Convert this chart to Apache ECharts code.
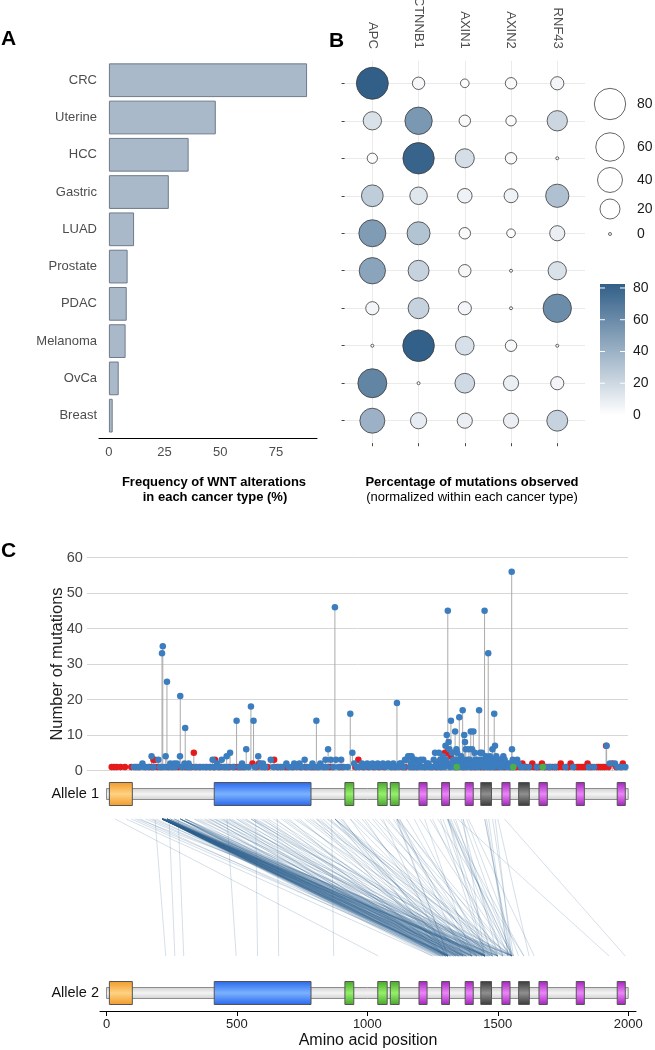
<!DOCTYPE html>
<html><head><meta charset="utf-8">
<script src="https://cdn.jsdelivr.net/npm/echarts@6/dist/echarts.min.js"></script>
<style>html,body{margin:0;padding:0;background:#fff}#c{width:655px;height:1050px}</style>
</head><body><div id="c"></div>
<script>
// ---------------- DATA ----------------
const cancerTypes = ['CRC','Uterine','HCC','Gastric','LUAD','Prostate','PDAC','Melanoma','OvCa','Breast'];
const wntFrequency = [89, 48, 35.8, 26.9, 11.3, 8.4, 8.0, 7.5, 4.4, 1.7];
const freqTicks = [0, 25, 50, 75];

const genes = ['APC','CTNNB1','AXIN1','AXIN2','RNF43'];
const pctAPC    = [85, 15, 2, 26, 51, 47, 5, 0, 63, 40];
const pctCTNNB1 = [4, 53, 80, 13, 31, 23, 23, 82, 0, 10];
const pctAXIN1  = [1, 3, 17, 7, 3, 4, 5, 16, 19, 8];
const pctAXIN2  = [3, 2, 3, 6, 1, 0, 0, 3, 8, 8];
const pctRNF43  = [5, 21, 0, 32, 8, 15, 59, 0, 5, 23];
const sizeLegendTicks = [80, 60, 40, 20, 0];
const colorLegendTicks = [80, 60, 40, 20, 0];

const aaTicks = [0, 500, 1000, 1500, 2000];
const proteinLength = 2000;
const alleles = ['Allele 1', 'Allele 2'];

// [amino acid position, number of mutations]
const truncating = [
 [105,1],[118,1],[128,1],[138,2],[145,1],[160,1],[173,4],[180,1],[199,3],[205,1],[213,33],[216,35],[221,1],[227,4],[232,25],
 [240,1],[245,2],[250,1],[260,2],[265,1],[270,2],[282,4],[283,21],[290,1],[299,2],[302,12],[310,1],[315,2],[320,1],[340,1],
 [355,1],[370,1],[385,1],[400,1],[407,3],[415,1],[425,2],[430,1],[442,3],[450,1],[461,4],[465,1],[474,5],[485,1],[499,14],
 [510,1],[520,2],[530,1],[536,6],[545,1],[554,18],[564,14],[570,1],[582,4],[589,2],[595,1],[600,2],[610,1],[630,3],[640,1],
 [660,1],[675,1],[690,2],[700,1],[710,1],[720,2],[730,1],[740,2],[750,1],[760,3],[770,1],[780,1],[790,2],[800,1],[805,14],
 [815,1],[820,2],[830,1],[840,3],[845,1],[850,6],[860,3],[870,1],[876,46],[880,3],[890,1],[900,3],[910,1],[925,1],[935,16],
 [943,5],[950,2],[960,1],[970,1],[980,2],[990,1],[1000,2],[1010,1],[1020,2],[1030,1],[1040,2],[1050,1],[1060,2],[1070,1],
 [1080,2],[1090,1],[1100,2],[1105,1],[1114,19],[1120,1],[1130,2],[1140,1],[1150,3],[1157,4],[1162,4],[1165,1],[1170,4],
 [1176,3],[1180,1],[1185,3],[1195,1],[1200,2],[1210,1],[1215,3],[1225,1],[1230,2],[1240,1],[1250,1],[1260,5],[1270,1],
 [1275,5],[1285,1],[1290,4],[1295,1],[1300,7],[1305,10],[1309,45],[1312,8],[1315,6],[1318,1],[1321,14],[1325,5],[1330,3],
 [1335,1],[1337,11],[1342,6],[1345,5],[1350,1],[1353,15],[1360,4],[1365,1],[1366,17],[1372,10],[1375,8],[1378,6],[1380,1],
 [1385,3],[1390,6],[1395,1],[1397,11],[1402,6],[1407,11],[1410,1],[1412,5],[1420,3],[1425,1],[1429,17],[1433,5],[1440,5],
 [1445,1],[1450,45],[1455,4],[1460,1],[1464,33],[1470,4],[1475,1],[1480,6],[1485,1],[1487,16],[1490,7],[1495,4],[1500,3],
 [1505,1],[1510,3],[1515,1],[1522,4],[1530,2],[1535,1],[1540,2],[1545,1],[1554,56],[1555,6],[1560,1],[1565,2],[1575,3],
 [1580,2],[1590,1],[1600,1],[1620,1],[1650,1],[1680,1],[1700,1],[1720,1],[1760,1],[1790,1],[1850,1],[1870,1],[1918,7],
 [1930,2],[1950,2],[1960,1],[1975,1],[1990,1],
 [1125,2],[1145,3],[1168,2],[1190,2],[1205,3],[1235,2],[1255,3],[1265,2],[1280,3],[1288,2],[1302,3],[1310,2],[1328,2],
 [1340,3],[1348,2],[1357,3],[1363,2],[1370,3],[1383,2],[1393,3],[1405,2],[1415,3],[1423,2],[1437,3],[1442,2],[1452,2],
 [1458,3],[1467,2],[1473,3],[1483,2],[1492,3],[1498,2],[1508,2],[1518,2],[1527,3],[1548,2],[1558,3],[1570,2]
];
const missense = [
 [20,1],[30,1],[39,1],[54,1],[71,1],[95,1],[112,1],[125,1],[150,1],[165,1],[175,1],[180,3],[186,3],[195,1],[210,1],
 [236,1],[255,1],[275,1],[292,1],[305,1],[318,1],[326,1],[335,5],[345,1],[360,1],[380,1],[395,1],[412,1],[416,3],[435,1],
 [455,1],[470,1],[490,1],[505,1],[515,1],[525,1],[560,2],[575,1],[585,2],[605,1],[618,1],[643,3],[655,1],[668,1],[685,1],
 [695,1],[715,1],[745,1],[765,1],[785,1],[795,1],[810,1],[835,1],[855,1],[866,1],[895,1],[905,1],[955,1],[966,3],[985,1],
 [1005,1],[1025,1],[1045,1],[1065,1],[1095,1],[1110,1],[1135,1],[1145,1],[1175,1],[1190,1],[1220,1],[1245,1],[1265,1],
 [1280,1],[1298,5],[1303,5],[1320,4],[1340,1],[1370,1],[1400,1],[1415,1],[1435,1],[1448,1],[1470,1],[1490,1],[1500,1],
 [1525,1],[1550,1],[1570,1],[1585,1],[1595,2],[1605,1],[1612,1],[1625,1],[1633,2],[1640,1],[1648,1],[1655,1],[1662,1],
 [1670,2],[1680,1],[1688,1],[1695,1],[1702,1],[1710,1],[1718,1],[1726,1],[1734,1],[1742,2],[1750,1],[1765,1],[1772,1],
 [1780,2],[1795,1],[1805,1],[1812,1],[1820,1],[1828,1],[1836,1],[1845,2],[1855,1],[1862,1],[1880,1],[1888,1],[1895,1],
 [1903,1],[1910,1],[1916,7],[1925,1],[1940,2],[1955,1],[1970,1],[1980,2]
];
const otherMut = [[1343,1],[1560,1],[1673,1]];

const domainStart = [11, 413, 914, 1040, 1088, 1198, 1285, 1375, 1435, 1516, 1580, 1658, 1801, 1958];
const domainEnd   = [99, 784, 948, 1076, 1122, 1229, 1315, 1406, 1476, 1547, 1621, 1690, 1832, 1989];
const domainType  = ['orange','blue','green','green','green','purple','purple','purple','gray','purple','gray','purple','purple','purple'];

// [position on allele 1, position on allele 2]
const alleleLinks = [
 [213,1250],[213,1265],[213,1280],[213,1290],[213,1300],[213,1309],[213,1309],[213,1315],[213,1325],[213,1338],
 [213,1350],[213,1367],[213,1380],[213,1395],[213,1410],[213,1430],[213,1450],[213,1465],[213,1490],[213,1520],
 [213,1295],[213,1305],[213,1320],[213,1345],[213,1360],[213,1372],[213,1390],[213,1405],[213,1440],[213,1455],
 [216,1260],[216,1275],[216,1295],[216,1309],[216,1309],[216,1322],[216,1340],[216,1360],[216,1375],[216,1400],
 [216,1420],[216,1440],[216,1450],[216,1475],[216,1500],[216,1554],
 [216,1285],[216,1300],[216,1315],[216,1335],[216,1355],[216,1380],[216,1410],[216,1430],[216,1460],
 [220,1285],[220,1330],[220,1370],[220,1415],[220,1460],[220,1540],
 [225,1310],[225,1350],[225,1400],[225,1450],
 [232,1270],[232,1300],[232,1309],[232,1338],[232,1355],[232,1367],[232,1390],[232,1420],[232,1450],[232,1465],
 [232,1500],[232,1554],[232,1290],[232,1320],[232,1345],[232,1375],[232,1405],[232,1440],
 [245,1310],[245,1380],[245,1440],[245,1530],[260,1300],[260,1350],[260,1450],[260,1500],
 [283,1290],[283,1309],[283,1345],[283,1367],[283,1400],[283,1450],[283,1480],[283,1554],[283,1320],[283,1380],[283,1430],
 [302,1309],[302,1367],[302,1430],[302,1450],[302,1560],
 [75,1250],[95,1300],[110,1330],[130,1280],[150,1400],[165,1360],[175,1450],[190,1309],[120,1500],[33,1042],
 [186,227],[240,262],[275,296],[462,497],[572,579],[655,660],[863,871],[1457,1540],[1490,1553],
 [335,1309],[340,1450],[350,1380],[360,1554],[375,1280],[390,1420],[400,1340],[410,1480],[420,1309],[430,1500],
 [440,1367],[450,1450],[460,1520],[470,1300],[480,1400],[499,1309],[499,1450],[520,1554],
 [380,1300],[395,1350],[415,1400],[445,1330],[470,1450],[510,1380],[530,1420],
 [536,1309],[554,1309],[554,1450],[554,1480],[564,1367],[564,1554],[575,1420],[590,1500],[600,1340],[620,1450],
 [610,1360],[640,1470],[680,1390],[730,1440],[770,1480],[820,1350],[845,1520],
 [650,1309],[670,1400],[690,1450],[700,1300],[720,1500],[740,1367],[760,1450],[780,1554],[790,1330],[805,1309],
 [805,1450],[810,1480],[830,1420],[850,1554],[860,1380],[876,1309],[876,1450],[876,1554],[876,1367],[876,1465],
 [876,1500],[890,1420],[900,1338],[905,1290],[935,1450],
 [935,1309],[950,1500],[980,1400],[1000,1500],[1020,1450],[1050,1480],[1070,1554],[1100,1420],[1110,1309],[1114,1450],
 [1114,1554],[1114,1309],[1114,1400],[1120,1520],[1125,1367],[1060,1300],[960,1470],[990,1350],[1030,1540],[1080,1500],
 [1180,1450],[1200,1550],[1220,1400],[1250,1500],[1270,1600],[1290,1480],[1305,1554],[1309,1450],[1309,1554],[1309,1600],
 [1309,1480],[1315,1520],[1330,1560],[1338,1520],[1346,1927],[1360,1500],[1367,1554],[1367,1450],[1380,1580],[1388,1640],
 [1150,1470],[1240,1560],[1280,1450],[1320,1540],
 [1450,1554],[1465,1540],[1480,1560],[1450,1550],[1526,1989],[1500,1620]
];

// ---------------- STYLE / LAYOUT ----------------
const FONT = 'Liberation Sans, Arial, Helvetica, sans-serif';
const pctSeries = [pctAPC, pctCTNNB1, pctAXIN1, pctAXIN2, pctRNF43];
const bubbleData = [];
pctSeries.forEach((arr, gi) => arr.forEach((v, ci) => bubbleData.push([gi, ci, v])));
const bubbleDiam = v => 3 + 5.65 * Math.pow(Math.max(v, 0), 0.368);
const colorMax = 82.5;
const colLow = '#ffffff', colHigh = '#325f88';

const rowCenter = [14, 213];
const linkTop = 39, linkBottom = 176;

const domainColors = {
  orange: ['#f19a2a', '#ffd283'],
  blue:   ['#2866ec', '#7ab2ff'],
  green:  ['#48a52b', '#95f06a'],
  purple: ['#a222bb', '#eb86f8'],
  gray:   ['#393939', '#8f8f8f']
};

const domainData = [];
alleles.forEach((a, r) => domainStart.forEach((s, i) => domainData.push([s, domainEnd[i], i, r])));
const alleleBarData = alleles.map((a, r) => [0, proteinLength, r]);
const linkData = alleleLinks.map(p => ({coords: [[p[0], linkTop], [p[1], linkBottom]]}));
const allMuts = truncating.concat(missense, otherMut);

const chart = echarts.init(document.getElementById('c'), null, {renderer: 'canvas'});

const graphics = [];
const txt = (text, x, y, font, fill, align, valign) => graphics.push({
  type: 'text', x, y, silent: true,
  style: {text, font, fill: fill || '#000', textAlign: align || 'left', textVerticalAlign: valign || 'middle'}
});
txt('A', 1, 39, 'bold 21px ' + FONT);
txt('B', 329, 41, 'bold 21px ' + FONT);
txt('C', 1, 551, 'bold 21px ' + FONT);
txt('Frequency of WNT alterations', 214, 482, 'bold 13px ' + FONT, '#000', 'center');
txt('in each cancer type (%)', 215, 497, 'bold 13px ' + FONT, '#000', 'center');
txt('Percentage of mutations observed', 472, 482, 'bold 13px ' + FONT, '#000', 'center');
txt('(normalized within each cancer type)', 472, 497, '13px ' + FONT, '#000', 'center');

const sizeKeyY = [104, 147, 180, 209, 234];
sizeLegendTicks.forEach((v, i) => {
  const d = bubbleDiam(v);
  graphics.push({type: 'circle', silent: true, shape: {cx: 610, cy: sizeKeyY[i], r: d / 2},
    style: {fill: '#fff', stroke: '#666', lineWidth: 1}});
  txt(String(v), 637, sizeKeyY[i], '14px ' + FONT, '#1a1a1a');
});
const cbTop = 284, cbBottom = 415, cbX = 600, cbW = 25;
graphics.push({type: 'rect', silent: true, shape: {x: cbX, y: cbTop, width: cbW, height: cbBottom - cbTop},
  style: {fill: new echarts.graphic.LinearGradient(0, 0, 0, 1, [{offset: 0, color: colHigh}, {offset: 1, color: colLow}])}});
colorLegendTicks.forEach(v => {
  const y = cbBottom - v * (cbBottom - cbTop) / colorMax;
  graphics.push({type: 'line', silent: true, shape: {x1: cbX, y1: y, x2: cbX + 5, y2: y}, style: {stroke: '#fff', lineWidth: 1}});
  graphics.push({type: 'line', silent: true, shape: {x1: cbX + cbW - 5, y1: y, x2: cbX + cbW, y2: y}, style: {stroke: '#fff', lineWidth: 1}});
  txt(String(v), 633, y, '14px ' + FONT, '#1a1a1a');
});
alleles.forEach((a, r) => txt(a, 99, 780 + rowCenter[r], '14.5px ' + FONT, '#111', 'right'));

const option = {
  animation: false,
  textStyle: {fontFamily: FONT},
  graphic: graphics,
  visualMap: [{
    type: 'continuous', show: false, seriesIndex: 1, dimension: 2,
    min: 0, max: colorMax, inRange: {color: [colLow, colHigh]}
  }],
  grid: [
    {left: 99, top: 61.6, width: 218, height: 372.7, outerBoundsMode: 'none'},
    {left: 344.6, top: 60.8, width: 240.4, height: 382.4, outerBoundsMode: 'none'},
    {left: 86.9, top: 557.5, width: 541.1, height: 213, outerBoundsMode: 'none'},
    {left: 100, top: 780, width: 536, height: 231, outerBoundsMode: 'none'}
  ],
  xAxis: [
    {type: 'value', gridIndex: 0, min: -4.45, max: 93.45, offset: 3.7,
      axisLine: {show: true, onZero: false, lineStyle: {color: '#000', width: 1}},
      axisTick: {show: false}, splitLine: {show: false},
      axisLabel: {customValues: freqTicks, margin: 8, fontSize: 13, color: '#4d4d4d'}},
    {type: 'value', gridIndex: 1, position: 'top', min: -0.6, max: 4.6,
      axisLine: {show: false, onZero: false},
      axisTick: {show: false, customValues: [0, 1, 2, 3, 4]},
      splitLine: {show: true, lineStyle: {color: '#ebebeb', width: 1}},
      axisLabel: {customValues: [0, 1, 2, 3, 4], rotate: 90, margin: 12, fontSize: 13, color: '#4d4d4d',
        formatter: v => genes[Math.round(v)]}},
    {type: 'value', gridIndex: 1, position: 'bottom', min: -0.6, max: 4.6,
      axisLine: {show: false, onZero: false}, splitLine: {show: false}, axisLabel: {show: false},
      axisTick: {show: true, customValues: [0, 1, 2, 3, 4], length: 3, lineStyle: {color: '#444'}}},
    {type: 'value', gridIndex: 2, min: -75, max: proteinLength, show: false},
    {type: 'value', gridIndex: 3, min: -25, max: 2030,
      axisLine: {show: true, onZero: false, lineStyle: {color: '#000', width: 1}},
      axisTick: {show: true, customValues: aaTicks, length: 5, lineStyle: {color: '#000'}},
      axisLabel: {customValues: aaTicks, margin: 7, fontSize: 13, color: '#222', formatter: v => String(v)},
      splitLine: {show: false},
      name: 'Amino acid position', nameLocation: 'middle', nameGap: 22,
      nameTextStyle: {fontSize: 16, color: '#111'}}
  ],
  yAxis: [
    {type: 'category', gridIndex: 0, data: cancerTypes, inverse: true,
      axisLine: {show: false}, axisTick: {show: false},
      axisLabel: {margin: 2, fontSize: 13, color: '#4d4d4d'}},
    {type: 'value', gridIndex: 1, min: -0.6, max: 9.6, inverse: true,
      axisLine: {show: false, onZero: false},
      axisTick: {show: true, customValues: [0,1,2,3,4,5,6,7,8,9], length: 3, lineStyle: {color: '#444'}},
      axisLabel: {show: false},
      splitLine: {show: true, lineStyle: {color: '#ebebeb', width: 1}}},
    {type: 'value', gridIndex: 2, min: 0, max: 60, interval: 10,
      axisLine: {show: false}, axisTick: {show: false},
      axisLabel: {margin: 4, fontSize: 14.5, color: '#444'},
      splitLine: {show: true, lineStyle: {color: '#d6d6d6', width: 1}},
      name: 'Number of mutations', nameLocation: 'middle', nameGap: 21, nameMoveOverlap: false,
      nameTextStyle: {fontSize: 16.5, color: '#222'}},
    {type: 'value', gridIndex: 3, min: 0, max: 231, inverse: true, show: false}
  ],
  series: [
    {type: 'bar', xAxisIndex: 0, yAxisIndex: 0, data: wntFrequency, barCategoryGap: '9.5%',
      itemStyle: {color: '#a9b9ca', borderColor: '#6e7b8b', borderWidth: 1}},
    {type: 'scatter', xAxisIndex: 1, yAxisIndex: 1, data: bubbleData,
      symbolSize: val => bubbleDiam(val[2]),
      itemStyle: {borderColor: '#3a3a3a', borderWidth: 0.8, opacity: 1}},
    {type: 'custom', xAxisIndex: 3, yAxisIndex: 2, data: allMuts, silent: true,
      renderItem: (params, api) => {
        const p0 = api.coord([api.value(0), 0]);
        const p1 = api.coord([api.value(0), api.value(1)]);
        return {type: 'line', shape: {x1: p0[0], y1: p0[1], x2: p1[0], y2: p1[1]},
          style: {stroke: '#aaaaaa', lineWidth: 1}};
      }},
    {type: 'scatter', xAxisIndex: 3, yAxisIndex: 2, data: missense, symbolSize: 6.5,
      itemStyle: {color: '#e41a1c', opacity: 1}},
    {type: 'scatter', xAxisIndex: 3, yAxisIndex: 2, data: truncating, symbolSize: 6.5,
      itemStyle: {color: '#3b7dbf', opacity: 1}},
    {type: 'scatter', xAxisIndex: 3, yAxisIndex: 2, data: otherMut, symbolSize: 6.5,
      itemStyle: {color: '#4daf4a', opacity: 1}},
    {type: 'custom', xAxisIndex: 4, yAxisIndex: 3, data: alleleBarData, silent: true,
      renderItem: (params, api) => {
        const yv = rowCenter[api.value(2)];
        const p1 = api.coord([api.value(0), yv]), p2 = api.coord([api.value(1), yv]);
        return {type: 'rect', shape: {x: p1[0], y: p1[1] - 5.5, width: p2[0] - p1[0], height: 11},
          style: {fill: new echarts.graphic.LinearGradient(0, 0, 0, 1, [
            {offset: 0, color: '#cfcfcf'}, {offset: 0.5, color: '#f4f4f4'}, {offset: 1, color: '#cfcfcf'}]),
            stroke: '#8c8c8c', lineWidth: 1}};
      }},
    {type: 'custom', xAxisIndex: 4, yAxisIndex: 3, data: domainData, silent: true,
      renderItem: (params, api) => {
        const yv = rowCenter[api.value(3)];
        const c = domainColors[domainType[api.value(2)]];
        const p1 = api.coord([api.value(0), yv]), p2 = api.coord([api.value(1), yv]);
        return {type: 'rect', shape: {x: p1[0], y: p1[1] - 11.5, width: p2[0] - p1[0], height: 23},
          style: {fill: new echarts.graphic.LinearGradient(0, 0, 0, 1, [
            {offset: 0, color: c[0]}, {offset: 0.5, color: c[1]}, {offset: 1, color: c[0]}]),
            stroke: '#555', lineWidth: 1}};
      }},
    {type: 'lines', coordinateSystem: 'cartesian2d', xAxisIndex: 4, yAxisIndex: 3, data: linkData, silent: true,
      lineStyle: {color: '#2b5e8a', opacity: 0.2, width: 1, curveness: 0}}
  ]
};
chart.setOption(option);
</script></body></html>
